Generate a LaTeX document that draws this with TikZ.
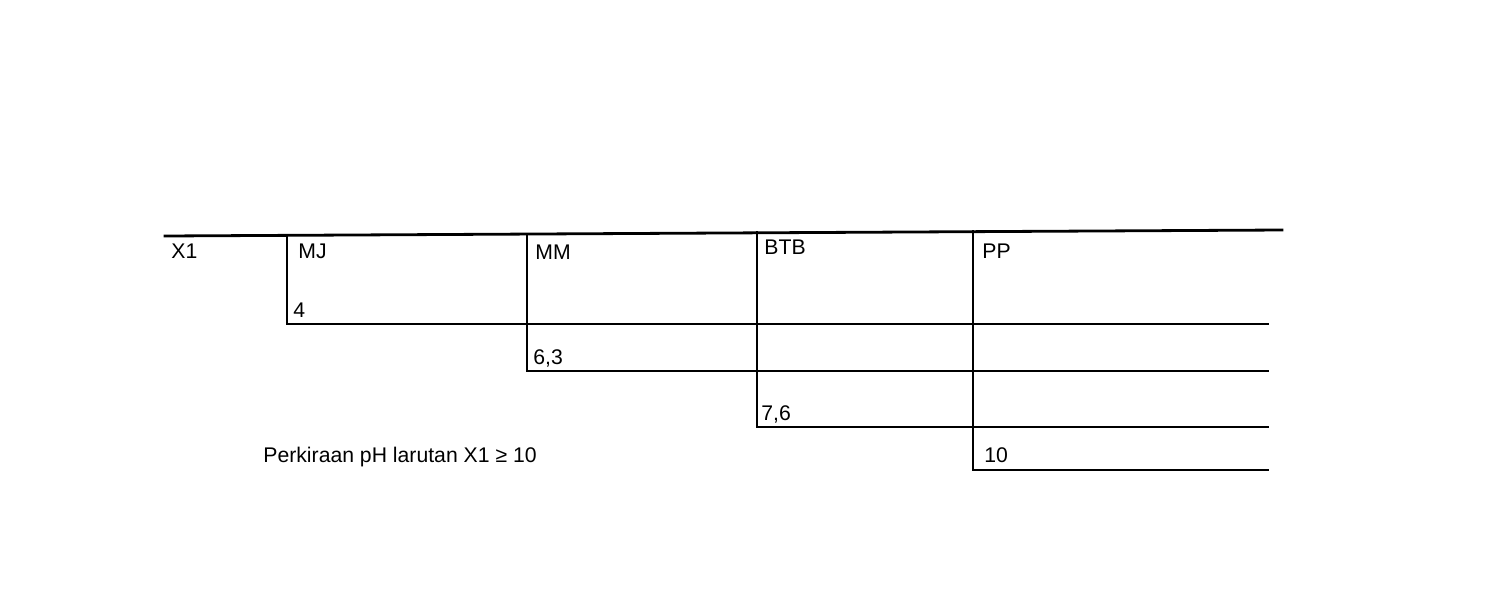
\documentclass[tikz,border=0pt]{standalone}
\usepackage{fontspec}
\setmainfont{Liberation Sans}
\begin{document}
\begin{tikzpicture}[x=0.5pt,y=-0.5pt,
    garis/.style={line width=1.4pt,line cap=rect},
    teks/.style={anchor=base west,inner sep=0pt,font=\fontsize{10.6}{12}\selectfont}]
    \useasboundingbox (0,0) rectangle (1493,600);
    % titik-titik garis
    \coordinate (atasKiri) at (165,236);
    \coordinate (atasKanan) at (1282,230);
    \coordinate (mjAtas) at (287,235.3);
    \coordinate (mjBawah) at (287,324);
    \coordinate (mmAtas) at (527,234.1);
    \coordinate (mmBawah) at (527,371);
    \coordinate (btbAtas) at (757,232.8);
    \coordinate (btbBawah) at (757,427);
    \coordinate (ppAtas) at (973,231.7);
    \coordinate (ppBawah) at (973,470);
    \coordinate (ujung1) at (1268,324);
    \coordinate (ujung2) at (1268,371);
    \coordinate (ujung3) at (1268,427);
    \coordinate (ujung4) at (1268,470);
    % garis
    \draw[garis] (atasKiri) -- (atasKanan);
    \draw[garis] (mjAtas) -- (mjBawah) -- (ujung1);
    \draw[garis] (mmAtas) -- (mmBawah) -- (ujung2);
    \draw[garis] (btbAtas) -- (btbBawah) -- (ujung3);
    \draw[garis] (ppAtas) -- (ppBawah) -- (ujung4);
    % teks
    \node[teks] (x1) at (171,258) {X1};
    \node[teks] (mj) at (298,258) {MJ};
    \node[teks] (mm) at (535,259) {MM};
    \node[teks] (btb) at (764,254) {BTB};
    \node[teks] (pp) at (982,258) {PP};
    \node[teks] (mjNilai) at (293,317) {4};
    \node[teks] (mmNilai) at (533,364) {6,3};
    \node[teks] (btbNilai) at (761,420) {7,6};
    \node[teks] (ppNilai) at (984,462) {10};
    \node[teks] (kesimpulan) at (263,462) {Perkiraan pH larutan X1 ≥ 10};
\end{tikzpicture}
\end{document}
